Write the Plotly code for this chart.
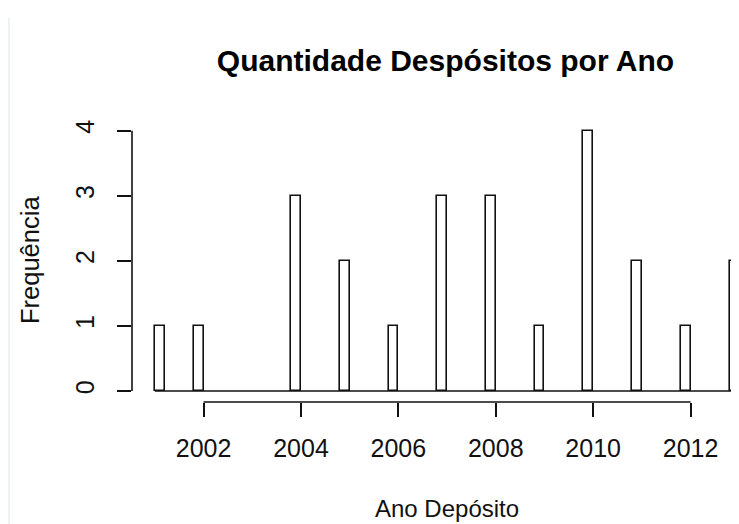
import plotly.graph_objects as go

# ---- data ----
years = [2001, 2002, 2003, 2004, 2005, 2006, 2007, 2008, 2009, 2010, 2011, 2012, 2013]
counts = [1, 1, 0, 3, 2, 1, 3, 3, 1, 4, 2, 1, 2]
x_ticks = [2002, 2004, 2006, 2008, 2010, 2012]
y_ticks = [0, 1, 2, 3, 4]
bin_width = 0.2

title_text = "Quantidade Despósitos por Ano"
x_title = "Ano Depósito"
y_title = "Frequência"

FONT = "Liberation Sans, Arial, sans-serif"
INK = "#111111"

# R hist() bins are right-closed; the first bin is closed on the left edge
bx = [y for y, c in zip(years, counts) if c > 0]
by = [c for c in counts if c > 0]
boff = [0 if y == years[0] else -bin_width for y in bx]

fig = go.Figure()
fig.add_trace(go.Bar(
    x=bx, y=by, width=bin_width, offset=boff,
    marker=dict(color="white", line=dict(color=INK, width=1.6)),
    showlegend=False, hoverinfo="x+y",
))
# empty bins draw as a baseline from first to last bin
fig.add_trace(go.Scatter(
    x=[years[0], years[-1]], y=[0, 0], mode="lines",
    line=dict(color=INK, width=1.6), showlegend=False, hoverinfo="skip",
))

# the page body adds an 8px margin, so the figure is sized to fill the rest
W, H = 731, 516
ml, mr, mt, mb = 124, 0, 102, 122
PW, PH = W - ml - mr, H - mt - mb
OFF = 8  # page offset of the figure


def px_x(page_x):
    return (page_x - OFF - ml) / PW


def px_y(page_y):
    return (H - mb - (page_y - OFF)) / PH


fig.update_layout(
    width=W, height=H,
    margin=dict(l=ml, r=mr, t=mt, b=mb, autoexpand=False),
    paper_bgcolor="white", plot_bgcolor="white",
    font=dict(family=FONT, size=24, color=INK),
    bargap=0,
    title=dict(text="<b>" + title_text + "</b>", x=437.5 / W, xref="container", xanchor="center",
               y=1 - 52 / H, yref="container", yanchor="middle",
               font=dict(family=FONT, size=30, color="black")),
    xaxis=dict(
        range=[2000.53, 2012.995], tickvals=x_ticks, ticktext=[str(t) for t in x_ticks],
        ticks="outside", ticklen=14, tickwidth=1.6, tickcolor=INK,
        showline=False, showgrid=False, zeroline=False,
        tickfont=dict(family=FONT, size=25, color=INK),
        ticklabelstandoff=10,
        automargin=False,
    ),
    yaxis=dict(
        range=[-0.17, 4.317], tickvals=y_ticks, ticktext=[str(t) for t in y_ticks],
        ticks="outside", ticklen=14, tickwidth=1.6, tickcolor=INK, tickangle=-90,
        showline=False, showgrid=False, zeroline=False,
        tickfont=dict(family=FONT, size=25, color=INK),
        ticklabelstandoff=13,
        automargin=False,
    ),
    annotations=[
        # axis titles centred as R centres them (over the full plot region)
        dict(text=x_title, xref="paper", yref="paper", x=px_x(447), y=px_y(508.5),
             xanchor="center", yanchor="middle", showarrow=False,
             font=dict(family=FONT, size=24, color=INK)),
        dict(text=y_title, xref="paper", yref="paper", x=px_x(30), y=px_y(260),
             xanchor="center", yanchor="middle", showarrow=False, textangle=-90,
             font=dict(family=FONT, size=25.5, color=INK)),
    ],
    shapes=[
        # R-style axis lines spanning only the tick range
        dict(type="line", xref="x", yref="paper", x0=x_ticks[0], x1=x_ticks[-1], y0=0, y1=0,
             line=dict(color=INK, width=1.6)),
        dict(type="line", xref="paper", yref="y", x0=0, x1=0, y0=y_ticks[0], y1=y_ticks[-1],
             line=dict(color=INK, width=1.6)),
        # faint window border at the left of the screenshot
        dict(type="line", xref="paper", yref="paper", x0=px_x(9), x1=px_x(9),
             y0=px_y(524), y1=px_y(18),
             line=dict(color="#e9eef4", width=1.5)),
    ],
)

fig.write_html("out.html")
